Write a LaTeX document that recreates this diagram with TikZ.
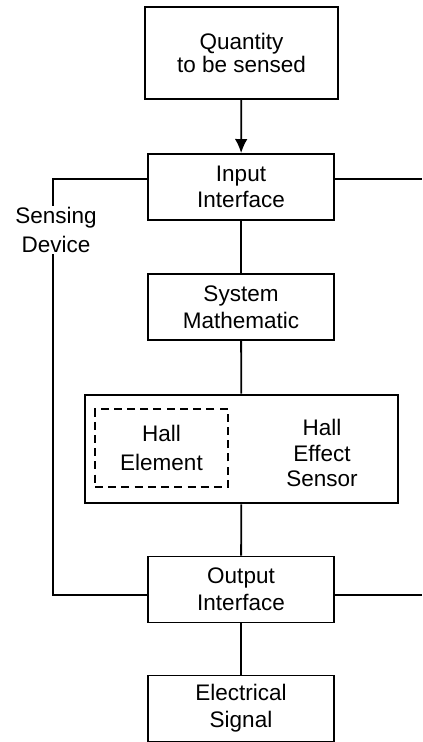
\documentclass[tikz,border=0pt]{standalone}
\usepackage{fontspec}
\setmainfont{Liberation Sans}
\usetikzlibrary{arrows.meta}

\tikzset{
  blk/.style={draw, line width=1.3pt, align=center, inner sep=0pt,
    minimum width=4.65cm, minimum height=1.65cm,
    font=\fontsize{16}{19}\selectfont},
  wire/.style={line width=1.3pt},
}

\begin{document}
\begin{tikzpicture}[x=0.025cm, y=-0.025cm]
  \useasboundingbox (0,0) rectangle (422,742);
  % blocks
  \node [blk, font=\fontsize{16}{17}\selectfont, minimum width=4.825cm, minimum height=2.3cm] (qty) at (241.5,53) {Quantity\\to be sensed};
  \node [blk] (inp) at (241,187) {Input\\Interface};
  \node [blk] (sys) at (241,307) {System\\Mathematic};
  \node [blk, line width=2pt, minimum width=7.825cm, minimum height=2.7cm] (hes) at (241.5,449) {};
  \node [blk, font=\fontsize{16}{20}\selectfont, dash pattern=on 5.7pt off 3.7pt, minimum width=3.325cm, minimum height=1.95cm] (hel) at (161.5,448) {Hall\\Element};
  \node [align=center, font=\fontsize{16}{18}\selectfont] (hest) at (322,453) {Hall\\Effect\\Sensor};
  \node [blk] (out) at (241,589.5) {Output\\Interface};
  \node [blk] (sig) at (241,708.5) {Electrical\\Signal};
  % sensing device frame
  \coordinate (tl) at (53,179);
  \coordinate (bl) at (53,595);
  \coordinate (tr) at (422,179);
  \coordinate (br) at (422,595);
  \draw [wire] (inp.west |- tl) -- (tl) -- (bl) -- (out.west |- bl);
  \draw [wire] (inp.east |- tr) -- (tr);
  \draw [wire] (out.east |- br) -- (br);
  \node [fill=white, align=center, inner sep=1pt, font=\fontsize{16}{20}\selectfont] (sd) at (56,230) {Sensing\\Device};
  % signal path
  \draw [wire, -{Latex[length=10pt, width=9pt]}] (qty) -- (inp);
  \draw [wire] (inp) -- (sys);
  \draw [wire] (sys) -- (hes);
  \draw [wire] (hes) -- (out);
  \draw [wire] (out) -- (sig);
\end{tikzpicture}
\end{document}
